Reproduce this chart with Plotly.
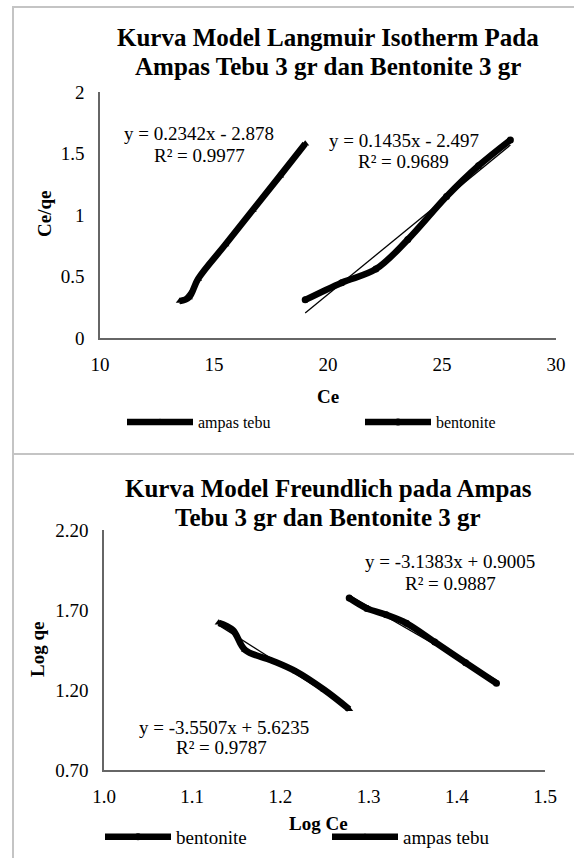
import numpy as np
import plotly.graph_objects as go

W, H = 574, 858

# ---------------- data ----------------
# Langmuir (top chart)
langmuir_ampas_ce = [13.5, 13.9, 14.3, 15.5, 16.7, 17.9, 19.0]
langmuir_ampas_ceqe = [0.30, 0.33, 0.48, 0.76, 1.04, 1.32, 1.58]
langmuir_bent_ce = [19.0, 20.6, 22.1, 23.5, 25.2, 26.6, 28.0]
langmuir_bent_ceqe = [0.31, 0.45, 0.56, 0.80, 1.15, 1.40, 1.61]

# Freundlich (bottom chart)
freundlich_ampas_logce = [1.130, 1.146, 1.160, 1.190, 1.218, 1.250, 1.278]
freundlich_ampas_logqe = [1.62, 1.575, 1.45, 1.385, 1.315, 1.20, 1.08]
freundlich_bent_logce = [1.278, 1.298, 1.320, 1.343, 1.375, 1.410, 1.445]
freundlich_bent_logqe = [1.775, 1.71, 1.67, 1.617, 1.50, 1.37, 1.242]

langmuir_x_ticks = [10, 15, 20, 25, 30]
langmuir_y_ticks = [0, 0.5, 1, 1.5, 2]
freundlich_x_ticks = [1.0, 1.1, 1.2, 1.3, 1.4, 1.5]
freundlich_y_ticks = [0.70, 1.20, 1.70, 2.20]

langmuir_title = ["Kurva Model Langmuir Isotherm Pada", "Ampas Tebu 3 gr dan Bentonite 3 gr"]
freundlich_title = ["Kurva Model Freundlich pada Ampas", "Tebu 3 gr dan Bentonite 3 gr"]
langmuir_eq_ampas = ["y = 0.2342x - 2.878", "R² = 0.9977"]
langmuir_eq_bent = ["y = 0.1435x - 2.497", "R² = 0.9689"]
freundlich_eq_ampas = ["y = -3.5507x + 5.6235", "R² = 0.9787"]
freundlich_eq_bent = ["y = -3.1383x + 0.9005", "R² = 0.9887"]

# ---------------- helpers ----------------
def px(x):
    return x / W


def py(y):
    return 1 - y / H


SERIF = "Liberation Serif, Times New Roman, serif"
LINE_W = 6.5
AXIS_COLOR = "#666666"

fig = go.Figure()


def add_series(x, y, name, symbol, xa, ya, legend_id):
    fig.add_trace(go.Scatter(
        x=x, y=y, name=name, mode="lines+markers",
        line=dict(color="black", width=LINE_W, shape="spline", smoothing=1.0),
        marker=dict(symbol=symbol, size=7, color="black"),
        xaxis=xa, yaxis=ya, legend=legend_id, showlegend=True,
    ))


def add_trend(x, y, xa, ya):
    k, b = np.polyfit(x, y, 1)
    xs = np.array([min(x), max(x)])
    fig.add_trace(go.Scatter(
        x=xs, y=k * xs + b, mode="lines",
        line=dict(color="black", width=1.3),
        xaxis=xa, yaxis=ya, showlegend=False, hoverinfo="skip",
    ))


# top chart
add_trend(langmuir_ampas_ce, langmuir_ampas_ceqe, "x", "y")
add_trend(langmuir_bent_ce, langmuir_bent_ceqe, "x", "y")
add_series(langmuir_ampas_ce, langmuir_ampas_ceqe, "ampas tebu", "triangle-up", "x", "y", "legend")
add_series(langmuir_bent_ce, langmuir_bent_ceqe, "bentonite", "circle", "x", "y", "legend2")

# bottom chart
add_trend(freundlich_ampas_logce, freundlich_ampas_logqe, "x2", "y2")
add_trend(freundlich_bent_logce, freundlich_bent_logqe, "x2", "y2")
add_series(freundlich_bent_logce, freundlich_bent_logqe, "bentonite", "circle", "x2", "y2", "legend3")
add_series(freundlich_ampas_logce, freundlich_ampas_logqe, "ampas tebu", "triangle-up", "x2", "y2", "legend4")

axis_common = dict(
    showline=True, linecolor=AXIS_COLOR, linewidth=1.5, showgrid=False,
    zeroline=False, ticks="", tickfont=dict(family=SERIF, size=19, color="black"),
    fixedrange=True, automargin=False,
)

annotations = []


def text(x, y, s, size=19, bold=False, angle=0, xanchor="center"):
    annotations.append(dict(
        x=px(x), y=py(y), xref="paper", yref="paper", text=("<b>%s</b>" % s) if bold else s,
        showarrow=False, xanchor=xanchor, yanchor="middle", textangle=angle,
        font=dict(family=SERIF, size=size, color="black"),
    ))


# titles
text(328, 38, langmuir_title[0], size=25, bold=True)
text(328, 67, langmuir_title[1], size=25, bold=True)
text(328, 489, freundlich_title[0], size=25, bold=True)
text(328, 517, freundlich_title[1], size=25, bold=True)

# equations
text(199, 133, langmuir_eq_ampas[0])
text(199, 155, langmuir_eq_ampas[1])
text(404, 140, langmuir_eq_bent[0])
text(403, 162, langmuir_eq_bent[1])
text(224, 727, freundlich_eq_ampas[0])
text(221, 747, freundlich_eq_ampas[1])
text(450, 561, freundlich_eq_bent[0])
text(450, 583, freundlich_eq_bent[1])

# axis titles
text(328, 397, "Ce", bold=True)
text(44, 214, "Ce/qe", bold=True, angle=-90)
text(318, 823, "Log Ce", bold=True)
text(37, 650, "Log qe", bold=True, angle=-90)

legend_common = dict(
    orientation="h", xanchor="left", yanchor="middle", bgcolor="rgba(0,0,0,0)",
    borderwidth=0, itemwidth=66, itemclick=False, itemdoubleclick=False,
)

fig.update_layout(
    width=W, height=H,
    margin=dict(l=0, r=0, t=0, b=0, pad=0, autoexpand=False),
    paper_bgcolor="white", plot_bgcolor="white",
    xaxis=dict(axis_common, domain=[px(100), px(556)], range=[10, 30],
               tickvals=langmuir_x_ticks, ticklabelstandoff=8, anchor="y"),
    yaxis=dict(axis_common, domain=[py(338), py(92)], range=[0, 2],
               tickvals=langmuir_y_ticks, ticklabelstandoff=10, anchor="x"),
    xaxis2=dict(axis_common, domain=[px(104), px(545)], range=[1.0, 1.5],
                tickvals=freundlich_x_ticks, tickformat=".1f", ticklabelstandoff=8, anchor="y2"),
    yaxis2=dict(axis_common, domain=[py(770), py(530)], range=[0.7, 2.2],
                tickvals=freundlich_y_ticks, tickformat=".2f", ticklabelstandoff=10, anchor="x2"),
    legend=dict(legend_common, x=px(122), y=py(422), font=dict(family=SERIF, size=16, color="black")),
    legend2=dict(legend_common, x=px(360), y=py(422), font=dict(family=SERIF, size=16, color="black")),
    legend3=dict(legend_common, x=px(100), y=py(837), font=dict(family=SERIF, size=19, color="black")),
    legend4=dict(legend_common, x=px(327), y=py(837), font=dict(family=SERIF, size=19, color="black")),
    annotations=annotations,
    shapes=[
        dict(type="rect", xref="paper", yref="paper", x0=px(13), x1=px(590), y0=py(454), y1=py(7),
             line=dict(color="#c4c4c4", width=2), layer="below"),
        dict(type="rect", xref="paper", yref="paper", x0=px(13), x1=px(590), y0=py(880), y1=py(454),
             line=dict(color="#c4c4c4", width=2), layer="below"),
    ],
    showlegend=True,
)

fig.write_html(
    "out.html",
    config={"displayModeBar": False, "staticPlot": False},
    post_script="document.body.style.margin='0px';document.body.style.padding='0px';"
                "document.body.style.overflow='hidden';",
)
